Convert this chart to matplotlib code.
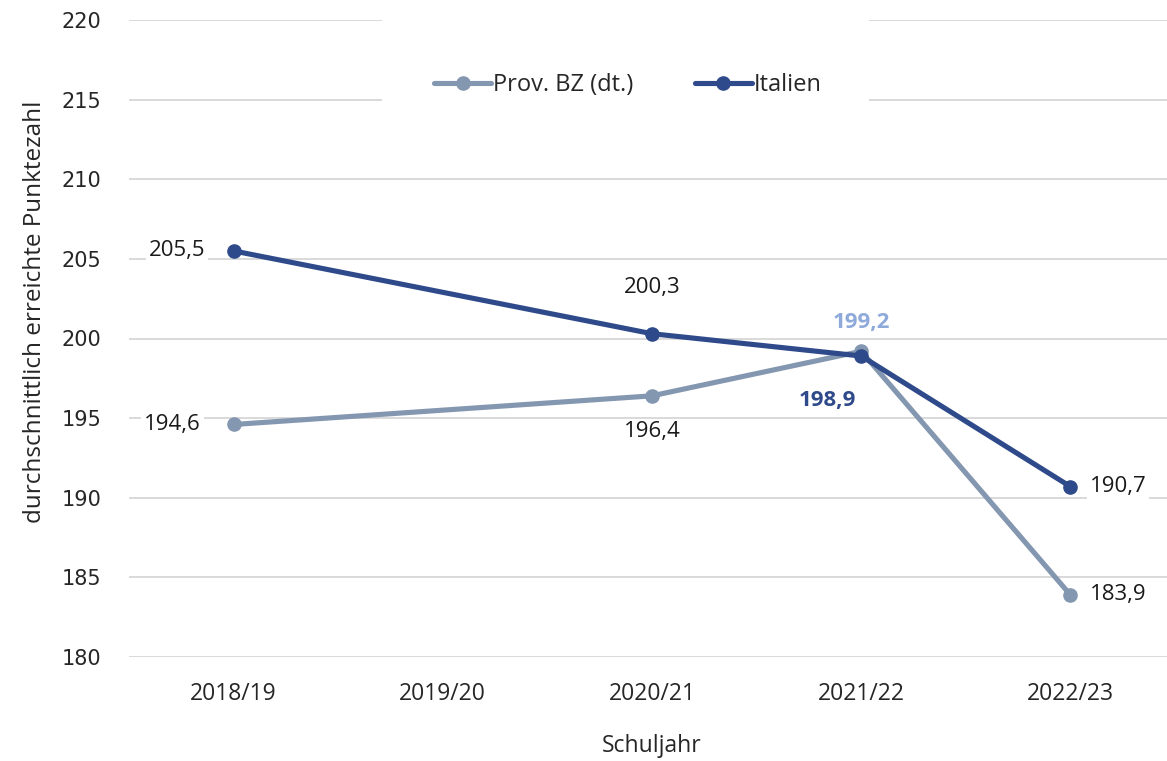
import matplotlib
matplotlib.use('Agg')
import matplotlib.pyplot as plt
from matplotlib.patches import Rectangle
import numpy as np

# data
years = ['2018/19', '2019/20', '2020/21', '2021/22', '2022/23']
bz_values = [194.6, np.nan, 196.4, 199.2, 183.9]
it_values = [205.5, np.nan, 200.3, 198.9, 190.7]
y_ticks = [180, 185, 190, 195, 200, 205, 210, 215, 220]

BZ_COLOR = '#8497b0'
IT_COLOR = '#2f4a8a'
LABEL_FONT = ['Open Sans', 'DejaVu Sans']

W, H = 1167, 761
fig = plt.figure(figsize=(W / 100, H / 100), dpi=100)
# plot area runs a bit past the right edge, as in the original
ax = fig.add_axes([129 / W, 1 - 657 / H, (1175 - 129) / W, (657 - 20) / H])

x = np.arange(len(years))


# connect across the missing year, like the original chart
def plot_series(vals, color, label, z):
    vals = np.array(vals, dtype=float)
    ok = ~np.isnan(vals)
    ax.plot(x[ok], vals[ok], color=color, linewidth=3.7, marker='o',
            markersize=9.5, label=label, zorder=z, solid_capstyle='round')


plot_series(bz_values, BZ_COLOR, 'Prov. BZ (dt.)', 3)
plot_series(it_values, IT_COLOR, 'Italien', 4)

# gridlines
for t in y_ticks:
    ax.axhline(t, color='#d9d9d9', linewidth=1.4, zorder=0)

ax.set_xlim(-0.5, len(years) - 0.5)
ax.set_ylim(180, 220)
ax.set_yticks(y_ticks)
ax.set_xticks(x)
ax.set_xticklabels(years, family=LABEL_FONT, fontsize=16.5, color='#262626')
for lbl in ax.get_yticklabels():
    lbl.set_family('DejaVu Sans')
    lbl.set_fontsize(15)
    lbl.set_color('#262626')
ax.tick_params(axis='both', length=0)
ax.tick_params(axis='y', pad=20)
ax.tick_params(axis='x', pad=18)
for s in ax.spines.values():
    s.set_visible(False)

# y label sits a bit above the plot centre in the original
fig.text(35 / W, 1 - 312 / H, 'durchschnittlich erreichte Punktezahl',
         rotation=90, ha='center', va='center', family=LABEL_FONT,
         fontsize=17.5, color='#262626')
ax.set_xlabel('Schuljahr', family=LABEL_FONT,
              fontsize=16.5, color='#262626', labelpad=20)

box = dict(facecolor='white', edgecolor='none', pad=2)


def val_label(i, v, dx, dy, color='#1a1a1a', bold=False, ha='center'):
    ax.annotate(f'{v:.1f}'.replace('.', ','), (i, v), xytext=(dx, dy),
                textcoords='offset points', ha=ha, va='center',
                fontsize=16, family=LABEL_FONT, color=color,
                fontweight='bold' if bold else 'normal', bbox=box, zorder=2)


# Prov. BZ labels
val_label(0, bz_values[0], -44, 0)
val_label(2, bz_values[2], 0, -26)
val_label(3, bz_values[3], 0, 21, color='#8eaadb', bold=True)
val_label(4, bz_values[4], 14, 0, ha='left')
# Italien labels
val_label(0, it_values[0], -41, 0)
val_label(2, it_values[2], 0, 33)
val_label(3, it_values[3], -24, -32, color=IT_COLOR, bold=True)
val_label(4, it_values[4], 14, 0, ha='left')

# white legend area hiding the two top gridlines
ax.add_patch(Rectangle((382 / W, 1 - 112 / H), (869 - 382) / W,
                       (112 - 8) / H, transform=fig.transFigure,
                       facecolor='white', edgecolor='none', zorder=1,
                       clip_on=False))

leg = ax.legend(loc='center', bbox_to_anchor=(628 / W, 1 - 85 / H),
                bbox_transform=fig.transFigure, ncol=2, frameon=False,
                borderaxespad=0, handlelength=2.4, handletextpad=0.1,
                columnspacing=2.6, prop={'family': LABEL_FONT, 'size': 17})
leg.set_zorder(10)
for t in leg.get_texts():
    t.set_color('#262626')

fig.savefig('out.png', dpi=100)
